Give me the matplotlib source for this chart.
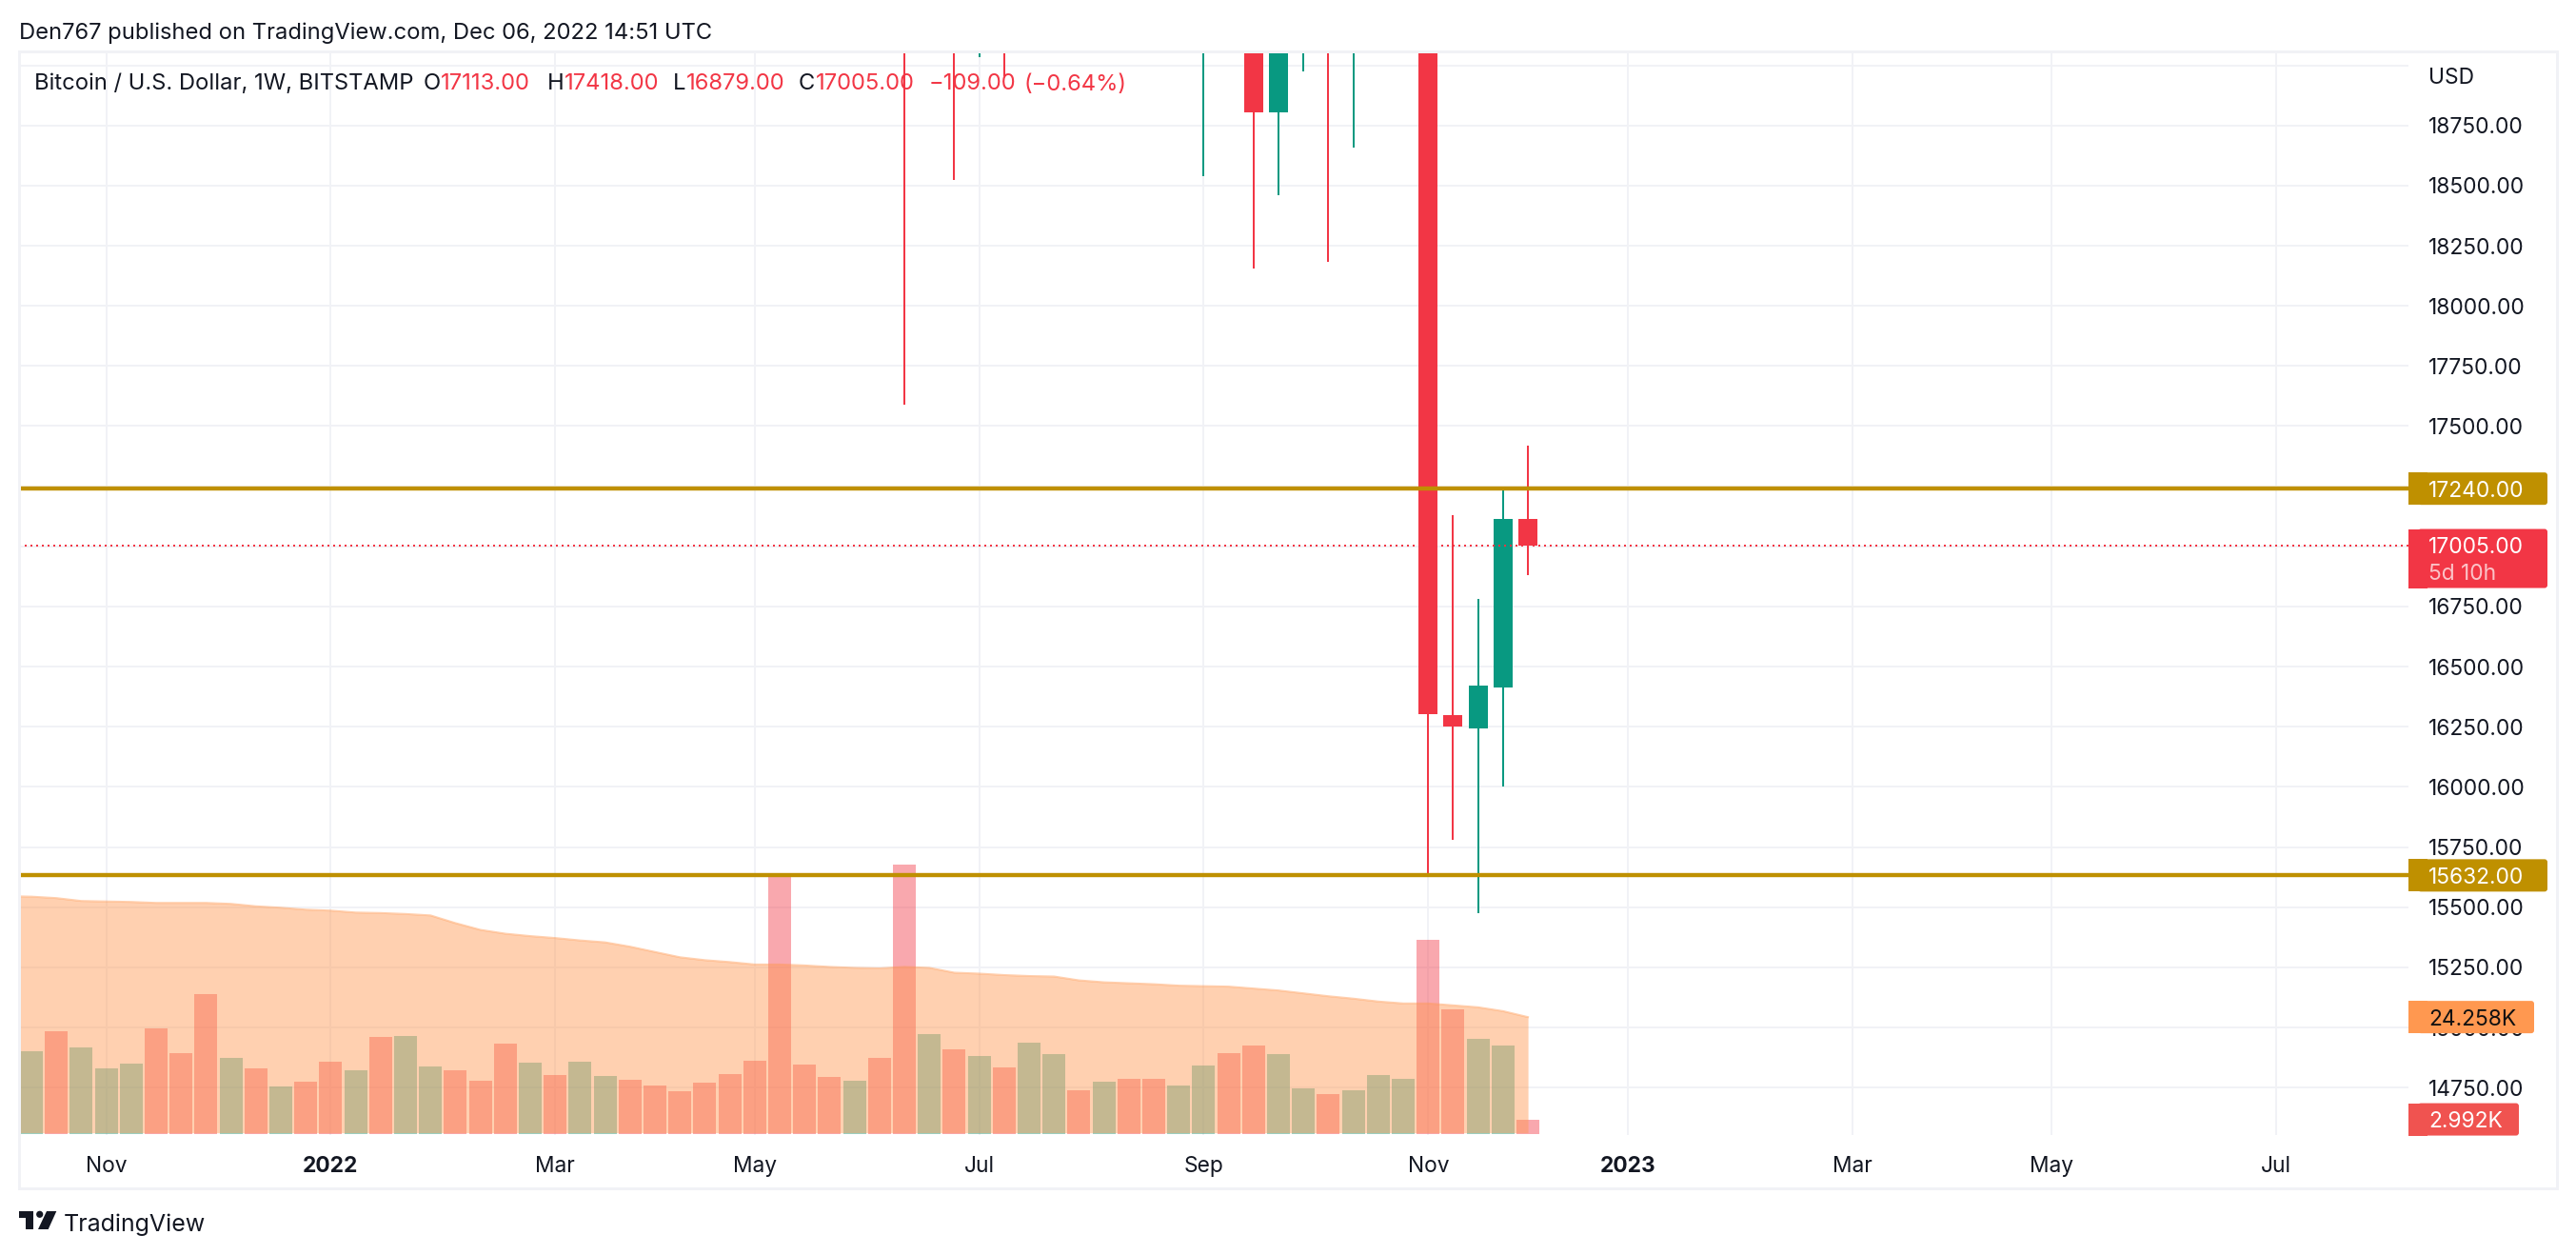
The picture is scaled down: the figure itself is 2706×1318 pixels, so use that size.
import matplotlib
matplotlib.use("Agg")
import matplotlib.pyplot as plt
from matplotlib.patches import Rectangle, FancyBboxPatch, Polygon, Circle
from matplotlib.transforms import Affine2D

plt.rcParams['font.family'] = ['Inter', 'DejaVu Sans']

W, H = 2706, 1318
RED = '#F23645'
TEAL = '#089981'
GOLD = '#BF9000'
INK = '#131722'
GRID = '#F1F2F6'
FS = 16.4
FS_HEAD = 17.1

# weekly candles that reach into the visible price range (week index, 0 = first bar)
candle_idx = [35, 37, 38, 39, 47, 49, 50, 51, 52, 53, 56, 57, 58, 59, 60]
candle_open = [26570, 21100, 19240, 21490, 19420, 19410, 18804, 19060, 19220, 19060, 20905, 16298, 16243, 16413, 17113]
candle_high = [26880, 21700, 21870, 21700, 20190, 20400, 19650, 19670, 19950, 19760, 21470, 17130, 16781, 17249, 17418]
candle_low = [17591, 18525, 19032, 18955, 18539, 18155, 18459, 18974, 18183, 18657, 15636, 15779, 15476, 16001, 16879]
candle_close = [20570, 19410, 21490, 19240, 21800, 18804, 19050, 19220, 19060, 20500, 16302, 16251, 16420, 17114, 17005]

# volume in thousands, one bar per week
vol = [17.2, 21.3, 18.0, 13.6, 14.6, 21.9, 16.8, 29.0, 15.8, 13.6,
       9.8, 10.8, 15.0, 13.2, 20.1, 20.3, 14.0, 13.2, 11.0, 18.7,
       14.8, 12.2, 15.0, 12.0, 11.2, 10.0, 8.8, 10.6, 12.4, 15.2,
       53.7, 14.4, 11.8, 11.0, 15.8, 56.0, 20.7, 17.6, 16.2, 13.8,
       18.9, 16.6, 9.0, 10.8, 11.4, 11.4, 10.0, 14.2, 16.8, 18.3,
       16.6, 9.4, 8.2, 9.0, 12.2, 11.4, 40.3, 25.9, 19.7, 18.3, 2.992]
vol_up = [1, 0, 1, 1, 1, 0, 0, 0, 1, 0,
          1, 0, 0, 1, 0, 1, 1, 0, 0, 0,
          1, 0, 1, 1, 0, 0, 0, 0, 0, 0,
          0, 0, 0, 1, 0, 0, 1, 0, 1, 0,
          1, 1, 0, 1, 0, 0, 1, 1, 0, 0,
          1, 1, 0, 1, 1, 1, 0, 0, 1, 1, 0]
vol_ma = [49.3, 49.0, 48.4, 48.3, 48.2, 48.0, 48.0, 48.0, 47.8, 47.3,
          47.0, 46.6, 46.4, 46.0, 45.9, 45.7, 45.4, 43.8, 42.4, 41.6,
          41.1, 40.7, 40.2, 39.8, 38.9, 37.8, 36.7, 36.1, 35.7, 35.2,
          35.2, 35.0, 34.7, 34.5, 34.4, 34.7, 34.5, 33.5, 33.3, 33.0,
          32.8, 32.7, 31.9, 31.5, 31.3, 31.1, 30.8, 30.7, 30.6, 30.2,
          29.8, 29.2, 28.6, 28.1, 27.5, 27.1, 27.1, 26.7, 26.3, 25.5, 24.258]

support = 15632
resistance = 17240
last_close = 17005
last_vol = 2.992
last_ma = 24.258

price_ticks = list(range(14750, 19001, 250))
price_labels = ['%d.00' % p if p != 19000 else '' for p in price_ticks]
date_idx = [3, 12, 21, 29, 38, 47, 56, 64, 73, 81, 90]
date_labels = ['Nov', '2022', 'Mar', 'May', 'Jul', 'Sep', 'Nov', '2023', 'Mar', 'May', 'Jul']

fig = plt.figure(figsize=(W / 100, H / 100), dpi=100, facecolor='white')
rect = [20 / W, (H - 1192) / H, (2530 - 20) / W, (1192 - 54) / H]
xlim = (-0.496, 95.3)
ylim = (14552.7, 19057.7)
px = 0.72  # one pixel in points

# grid sits under the volume pane, candles above it
ax_grid = fig.add_axes(rect, zorder=1)
ax_vol = fig.add_axes(rect, zorder=2)
ax = fig.add_axes(rect, zorder=3)

ax_grid.set_xlim(xlim)
ax_grid.set_ylim(ylim)
ax_grid.set_xticks(date_idx)
ax_grid.set_yticks(price_ticks)
ax_grid.grid(True, color=GRID, linewidth=2 * px)
ax_grid.tick_params(length=0, labelleft=False, labelbottom=False)
for s in ax_grid.spines.values():
    s.set_visible(False)

# volume bars and their moving average
x_vol = list(range(len(vol)))
colors = [TEAL if u else RED for u in vol_up]
ax_vol.bar(x_vol, vol, width=0.916, color=colors, alpha=0.43, linewidth=0, zorder=1)
x_ma = [-1] + x_vol
y_ma = [49.4] + vol_ma
ax_vol.fill_between(x_ma, 0.2, y_ma, color='#FF9850', alpha=0.45, linewidth=0, zorder=2)
ax_vol.plot(x_ma, y_ma, color='#FF9850', alpha=0.45, linewidth=2 * px, zorder=3)
ax_vol.set_xlim(xlim)
ax_vol.set_ylim(-0.26, 225)
ax_vol.axis('off')

# candles
for i, o, h, l, c in zip(candle_idx, candle_open, candle_high, candle_low, candle_close):
    col = TEAL if c >= o else RED
    ax.vlines(i, l, h, color=col, linewidth=2 * px, zorder=2)
    ax.bar(i, abs(c - o), bottom=min(o, c), width=0.763, color=col, linewidth=0, zorder=3)

ax.axhline(resistance, color=GOLD, linewidth=4.4 * px, zorder=5)
ax.axhline(support, color=GOLD, linewidth=4.4 * px, zorder=5)
last_line = ax.axhline(last_close, color=RED, linewidth=2 * px, linestyle=(0, (1, 2)), zorder=4)
last_line.set_snap(True)

ax.set_xlim(xlim)
ax.set_ylim(ylim)
ax.patch.set_visible(False)
for s in ax.spines.values():
    s.set_visible(False)
ax.yaxis.tick_right()
ax.set_yticks(price_ticks, price_labels)
ax.set_xticks(date_idx, date_labels)
ax.tick_params(axis='y', length=0, pad=21 * px, labelsize=FS, labelcolor=INK)
ax.tick_params(axis='x', length=0, pad=22 * px, labelsize=FS, labelcolor=INK)
for lab in ax.get_xticklabels():
    if lab.get_text().isdigit():
        lab.set_fontweight('bold')

# everything below is placed in image pixels, origin top left
to_px = Affine2D().scale(1, -1).translate(0, H)


def put(x, y, s, color=INK, ha='left', size=FS, weight='normal'):
    fig.text(x, y, s, color=color, ha=ha, va='center_baseline', fontsize=size,
             fontweight=weight, transform=to_px, zorder=20)


def tag(x1, y0, y1, color):
    # pane edge is square, the outer corners are slightly rounded
    fig.add_artist(FancyBboxPatch((2540, y0), x1 - 2540, y1 - y0, boxstyle='round,pad=0,rounding_size=3',
                                  facecolor=color, edgecolor='none', transform=to_px, zorder=10))
    fig.add_artist(Rectangle((2530, y0), 20, y1 - y0, facecolor=color, edgecolor='none',
                             transform=to_px, zorder=10))


def ypx(axes, value):
    return H - axes.transData.transform((0, value))[1]


# frame
fig.add_artist(Rectangle((20, 54), 2686 - 20, 1248 - 54, facecolor='none', edgecolor=GRID,
                         linewidth=3 * px, transform=to_px, zorder=5))

# price and volume tags on the scale
y = ypx(ax, resistance)
tag(2676, y - 17, y + 17, GOLD)
put(2551, y, '%d.00' % resistance, 'white')
y = ypx(ax, support)
tag(2676, y - 17, y + 17, GOLD)
put(2551, y, '%d.00' % support, 'white')
y = ypx(ax, last_close)
tag(2676, y - 17, y + 45, RED)
put(2551, y, '%d.00' % last_close, 'white')
put(2551, y + 28, '5d 10h', '#FBC3C8')
y = ypx(ax_vol, last_ma)
tag(2662, y - 17, y + 17, '#FF9850')
put(2551, y, '%.3fK' % last_ma, '#111111')
y = ypx(ax_vol, last_vol)
tag(2646, y - 17, y + 17, '#F05350')
put(2551, y, '%.3fK' % last_vol, 'white')

put(2551, 80, 'USD')

# header and legend
put(20, 32, 'Den767 published on TradingView.com, Dec 06, 2022 14:51 UTC', size=FS_HEAD)
put(36.5, 86, 'Bitcoin / U.S. Dollar, 1W, BITSTAMP', size=FS_HEAD)
put(445, 86, 'O', size=FS_HEAD)
put(463, 86, '17113.00', RED, size=FS_HEAD)
put(575, 86, 'H', size=FS_HEAD)
put(593, 86, '17418.00', RED, size=FS_HEAD)
put(707, 86, 'L', size=FS_HEAD)
put(721, 86, '16879.00', RED, size=FS_HEAD)
put(839, 86, 'C', size=FS_HEAD)
put(857, 86, '17005.00', RED, size=FS_HEAD)
put(976, 86, '\u2212109.00', RED, size=FS_HEAD)
put(1075, 86, '(\u22120.64%)', RED, size=FS_HEAD)

# TradingView logo
fig.add_artist(Polygon([(20, 1272), (35, 1272), (35, 1291), (27, 1291), (27, 1279), (20, 1279)],
                       facecolor=INK, edgecolor='none', transform=to_px, zorder=10))
fig.add_artist(Circle((41.7, 1275.3), 3.6, facecolor=INK, edgecolor='none', transform=to_px, zorder=10))
fig.add_artist(Polygon([(49, 1272), (59.3, 1272), (50.7, 1291), (40, 1291)],
                       facecolor=INK, edgecolor='none', transform=to_px, zorder=10))
put(67, 1284, 'TradingView', size=18)

fig.savefig('out.png', dpi=100)
